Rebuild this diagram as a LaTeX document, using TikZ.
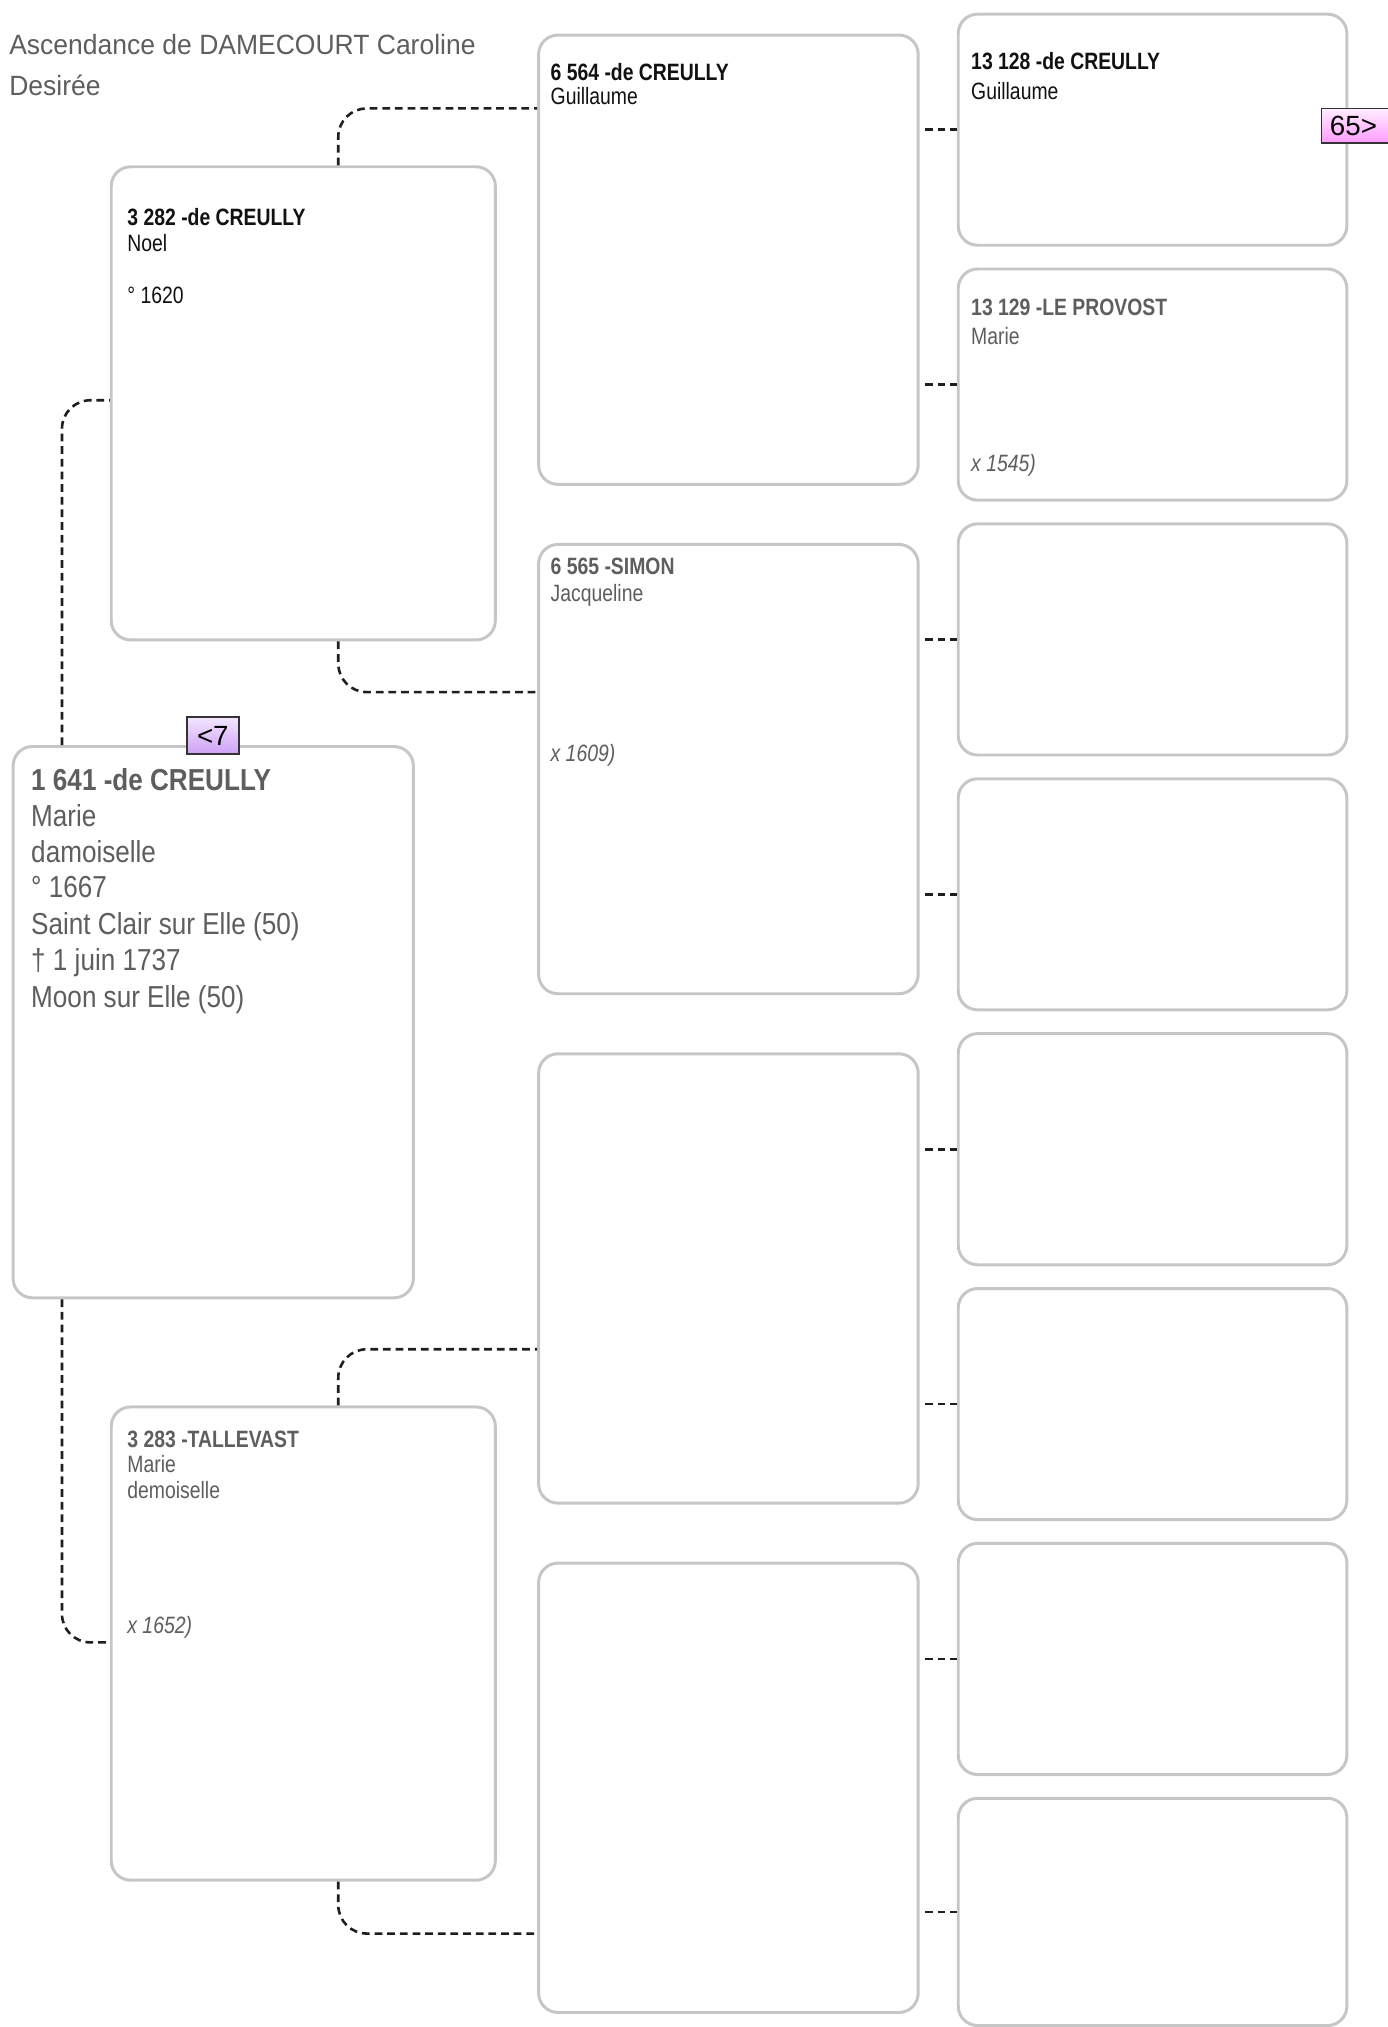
\documentclass[tikz,border=0pt]{standalone}
\usepackage{fontspec}
\setmainfont{Liberation Sans}
\newfontfamily\nsmall{Liberation Sans}[FakeStretch=0.82]
\newfontfamily\nbig{Liberation Sans}[FakeStretch=0.86]
\newfontfamily\ntitle{Liberation Sans}[FakeStretch=0.95]
\usetikzlibrary{calc}
\definecolor{boxgray}{HTML}{C6C6C6}
\definecolor{txtgray}{HTML}{5E5E5E}
\definecolor{txtblack}{HTML}{111111}
\definecolor{conncol}{HTML}{1E1E1E}
\definecolor{tagborder}{HTML}{333333}
\definecolor{lavtop}{HTML}{F1E6FF}
\definecolor{lavbot}{HTML}{CFA0F5}
\definecolor{pinktop}{HTML}{FFEEFF}
\definecolor{pinkbot}{HTML}{FF99FF}
\tikzset{
  pbox/.style={draw=boxgray, line width=2.3pt, rounded corners=15pt, fill=white,
    inner sep=0pt, anchor=north west},
  bigbox/.style={pbox, minimum width=310pt, minimum height=427pt},
  genbox/.style={pbox, minimum width=297.5pt, minimum height=366.5pt},
  colcbox/.style={pbox, minimum width=294pt, minimum height=348pt},
  coldbox/.style={pbox, minimum width=301pt, minimum height=179pt},
  conn/.style={draw=conncol, line width=2pt, dash pattern=on 6pt off 3.8pt, rounded corners=22pt},
  sconn/.style={draw=conncol, line width=2pt, dash pattern=on 6pt off 3.8pt},
  txt/.style={anchor=base west, inner sep=0pt},
  bigb/.style={txt, text=txtgray, font=\nbig\fontsize{23.5pt}{28pt}\selectfont\bfseries},
  bigr/.style={txt, text=txtgray, font=\nbig\fontsize{23.5pt}{28pt}\selectfont},
  smbk/.style={txt, text=txtblack, font=\nsmall\fontsize{18.3pt}{22pt}\selectfont\bfseries},
  smrk/.style={txt, text=txtblack, font=\nsmall\fontsize{18.3pt}{22pt}\selectfont},
  smbg/.style={txt, text=txtgray, font=\nsmall\fontsize{18.3pt}{22pt}\selectfont\bfseries},
  smrg/.style={txt, text=txtgray, font=\nsmall\fontsize{18.3pt}{22pt}\selectfont},
  smig/.style={txt, text=txtgray, font=\nsmall\fontsize{18.3pt}{22pt}\selectfont\itshape},
  titl/.style={txt, text=txtgray, font=\ntitle\fontsize{21.6pt}{26pt}\selectfont},
  tagbox/.style={draw=tagborder, line width=1.4pt, inner sep=0pt,
    font=\fontsize{21.5pt}{24pt}\selectfont, text=black},
}
\begin{document}
\begin{tikzpicture}[x=1pt,y=-1pt]
\useasboundingbox (0,0) rectangle (1074.4,1569.9);

% title
\node[titl] (title1) at (7,42.6) {Ascendance de DAMECOURT Caroline};
\node[titl] (title2) at (7,73.6) {Desirée};

% boxes
\node[bigbox] (p1641) at (9,577) {};
\node[genbox] (p3282) at (85,128) {};
\node[genbox] (p3283) at (85,1088.5) {};
\node[colcbox] (p6564) at (416,26) {};
\node[colcbox] (p6565) at (416,420.5) {};
\node[colcbox] (p6566) at (416,815) {};
\node[colcbox] (p6567) at (416,1209.5) {};
\node[coldbox] (q1) at (741,9.8) {};
\node[coldbox] (q2) at (741,207.2) {};
\node[coldbox] (q3) at (741,404.6) {};
\node[coldbox] (q4) at (741,602.0) {};
\node[coldbox] (q5) at (741,799.4) {};
\node[coldbox] (q6) at (741,996.8) {};
\node[coldbox] (q7) at (741,1194.2) {};
\node[coldbox, minimum height=176pt] (q8) at (741,1391.6) {};

% connectors
\draw[conn] ($(p1641.north west)+(39,0)$) |- ($(p3282.north west)+(0,182)$);
\draw[conn] ($(p1641.south west)+(39,0)$) |- ($(p3283.north west)+(0,183.5)$);
\draw[conn] ($(p3282.north west)+(177,0)$) |- ($(p6564.north west)+(0,58)$);
\draw[conn] ($(p3282.south west)+(177,0)$) |- ($(p6565.north west)+(0,115.5)$);
\draw[conn] ($(p3283.north west)+(177,0)$) |- ($(p6566.north west)+(0,230)$);
\draw[conn] ($(p3283.south west)+(177,0)$) |- ($(p6567.north west)+(0,288)$);
\draw[sconn] ($(p6564.east |- q1.west)+(4,0)$) -- (q1.west);
\draw[sconn] ($(p6564.east |- q2.west)+(4,0)$) -- (q2.west);
\draw[sconn] ($(p6565.east |- q3.west)+(4,0)$) -- (q3.west);
\draw[sconn] ($(p6565.east |- q4.west)+(4,0)$) -- (q4.west);
\draw[sconn] ($(p6566.east |- q5.west)+(4,0)$) -- (q5.west);
\draw[sconn] ($(p6566.east |- q6.west)+(4,0)$) -- (q6.west);
\draw[sconn] ($(p6567.east |- q7.west)+(4,0)$) -- (q7.west);
\draw[sconn] ($(p6567.east |- q8.west)+(4,0)$) -- (q8.west);

% 1641
\node[bigb] (t1641a) at (24,612.4) {1 641 -de CREULLY};
\node[bigr] (t1641b) at (24,639.8) {Marie};
\node[bigr] (t1641c) at (24,668.1) {damoiselle};
\node[bigr] (t1641d) at (24,695.2) {° 1667};
\node[bigr] (t1641e) at (24,724.0) {Saint Clair sur Elle (50)};
\node[bigr] (t1641f) at (24,751.8) {† 1 juin 1737};
\node[bigr] (t1641g) at (24,780.0) {Moon sur Elle (50)};

% 3282
\node[smbk] (t3282a) at (98.5,174.3) {3 282 -de CREULLY};
\node[smrk] (t3282b) at (98.5,195.0) {Noel};
\node[smrk] (t3282c) at (98.5,234.8) {° 1620};

% 3283
\node[smbg] (t3283a) at (98.5,1121.0) {3 283 -TALLEVAST};
\node[smrg] (t3283b) at (98.5,1140.8) {Marie};
\node[smrg] (t3283c) at (98.5,1160.5) {demoiselle};
\node[smig] (t3283d) at (98.5,1265.3) {x 1652)};

% 6564
\node[smbk] (t6564a) at (426.3,62.0) {6 564 -de CREULLY};
\node[smrk] (t6564b) at (426.3,81.3) {Guillaume};

% 6565
\node[smbg] (t6565a) at (426.3,445.3) {6 565 -SIMON};
\node[smrg] (t6565b) at (426.3,465.5) {Jacqueline};
\node[smig] (t6565c) at (426.3,590.0) {x 1609)};

% 13128
\node[smbk] (t13128a) at (752,54.2) {13 128 -de CREULLY};
\node[smrk] (t13128b) at (752,76.9) {Guillaume};

% 13129
\node[smbg] (t13129a) at (752,244.0) {13 129 -LE PROVOST};
\node[smrg] (t13129b) at (752,267.2) {Marie};
\node[smig] (t13129c) at (752,365.3) {x 1545)};

% tags
\node[tagbox, top color=lavtop, bottom color=lavbot, minimum width=40.5pt, minimum height=28.5pt]
  (k7) at (164.85,569.75) {<7};
\node[tagbox, top color=pinktop, bottom color=pinkbot, anchor=west, minimum height=27pt,
  text width=43pt, align=left, inner xsep=6.5pt] (k65) at (1022.8,97.5) {65>};
\end{tikzpicture}
\end{document}
